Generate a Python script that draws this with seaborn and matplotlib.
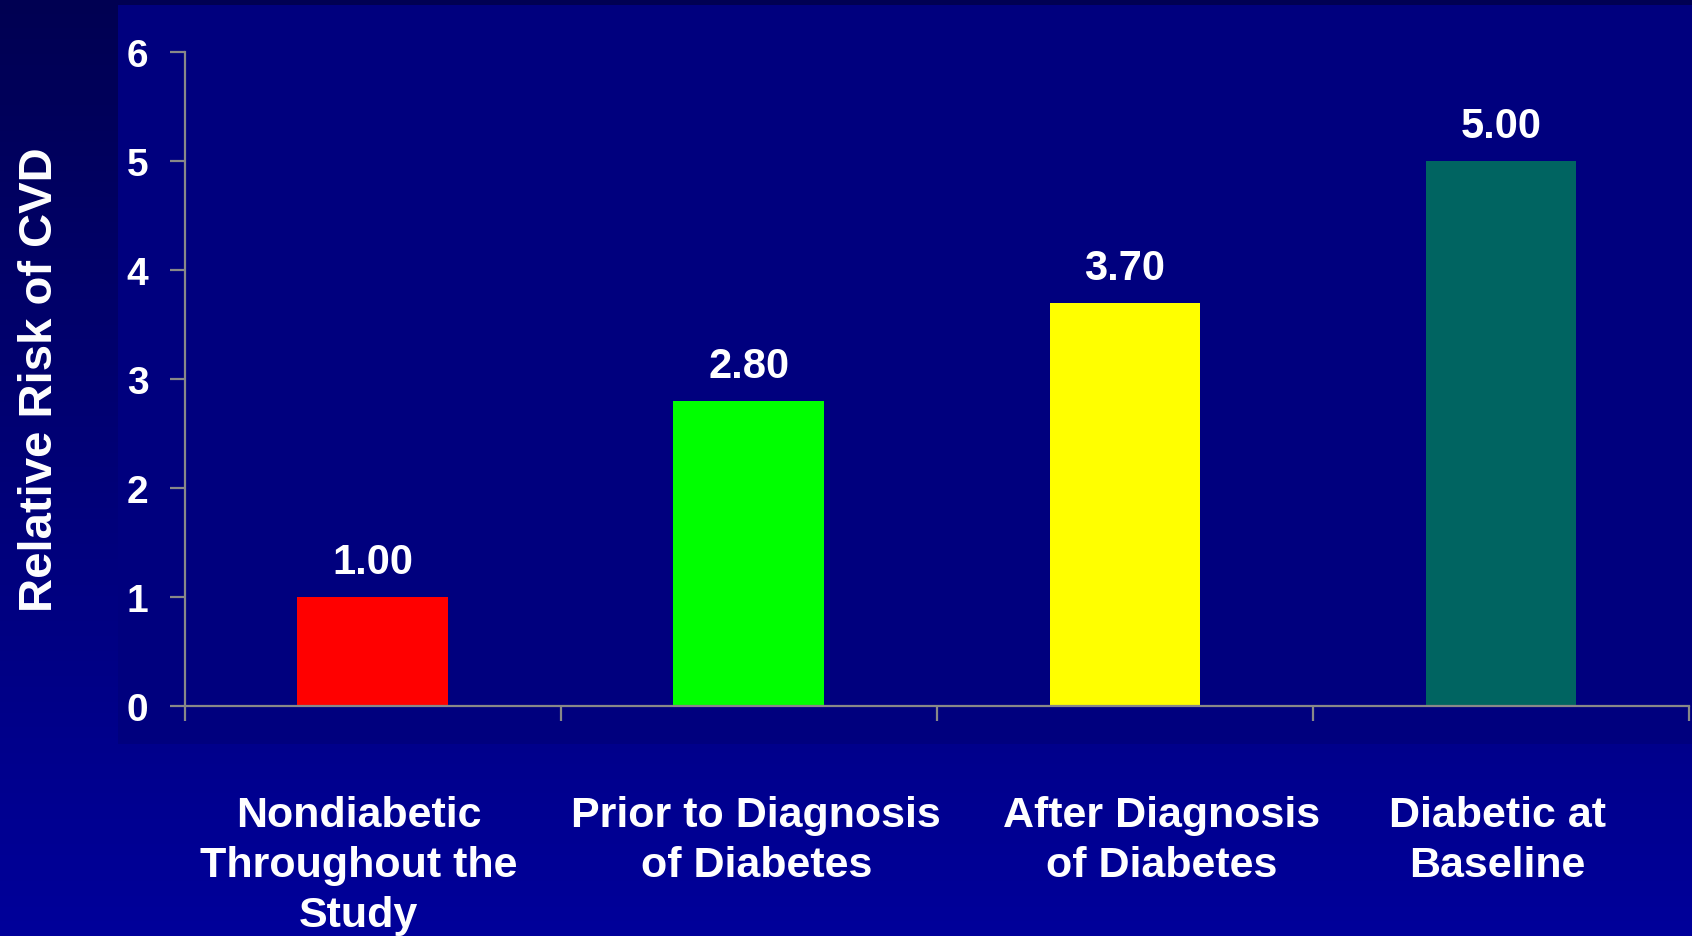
import numpy as np
import pandas as pd
import matplotlib
matplotlib.use("Agg")
import matplotlib.pyplot as plt
from matplotlib.patches import Rectangle
import seaborn as sns

categories = ["Nondiabetic\nThroughout the\nStudy", "Prior to Diagnosis\nof Diabetes",
              "After Diagnosis\nof Diabetes", "Diabetic at\nBaseline"]
values = [1.00, 2.80, 3.70, 5.00]
value_labels = ["1.00", "2.80", "3.70", "5.00"]
bar_colors = ["#FF0000", "#00FF00", "#FFFF00", "#006461"]
y_ticks = [0, 1, 2, 3, 4, 5, 6]

sns.set_style("white")
plt.rcParams['font.family'] = ['Liberation Sans', 'DejaVu Sans']
plt.rcParams['font.weight'] = 'bold'

W, H = 1692, 937
fig = plt.figure(figsize=(W / 100, H / 100), dpi=100)

# background gradient
bg = fig.add_axes([0, 0, 1, 1], zorder=-10)
grad = np.linspace(0, 1, 256).reshape(-1, 1)
top = np.array([0, 0, 0x52]) / 255
bot = np.array([0, 0, 0x9A]) / 255
img = top[None, None, :] * (1 - grad[:, :, None]) + bot[None, None, :] * grad[:, :, None]
bg.imshow(img, aspect='auto', extent=[0, 1, 0, 1], origin='upper')
bg.add_patch(Rectangle((118 / W, 1 - 745 / H), 1 - 118 / W, (745 - 6) / H,
                       facecolor="#00007E", edgecolor='none'))
bg.set_xlim(0, 1)
bg.set_ylim(0, 1)
bg.axis('off')

left = 184.5 / W
right = 1689 / W
top_y = 1 - 53 / H
bot_y = 1 - 707 / H
ax = fig.add_axes([left, bot_y, right - left, top_y - bot_y])
ax.set_facecolor('none')

df = pd.DataFrame({"cat": categories, "val": values})
sns.barplot(data=df, x="cat", y="val", hue="cat", palette=bar_colors,
            width=0.4, legend=False, ax=ax, saturation=1, edgecolor='none')

ax.set_xlim(-0.5, 3.5)
ax.set_ylim(0, 6)
ax.set_yticks(y_ticks)
ax.set_yticklabels([str(t) for t in y_ticks])

# category boundary ticks; category labels drawn as text boxes below the axis
ax.set_xticks(np.arange(-0.5, 4, 1.0))
ax.set_xticklabels([])
ax.tick_params(axis='x', which='major', direction='out', length=11, width=1.6,
               color='#888888', bottom=True)
ax.tick_params(axis='y', direction='out', length=11, width=1.6, color='#888888',
               labelsize=28, labelcolor='white', pad=15, left=True)
for lab in ax.get_yticklabels():
    lab.set_fontweight('bold')

label_shift = [-0.037, 0.02, 0.098, -0.009]  # text-box offsets (layout)
for i, cat in enumerate(categories):
    ax.annotate(cat, xy=(i + label_shift[i], 0), xycoords=ax.get_xaxis_transform(),
                xytext=(0, -64), textcoords='offset points',
                ha='center', va='top', multialignment='center',
                fontsize=31, fontweight='bold', color='white', linespacing=1.32)

for s in ['top', 'right']:
    ax.spines[s].set_visible(False)
for s in ['left', 'bottom']:
    ax.spines[s].set_color('#888888')
    ax.spines[s].set_linewidth(1.6)

ax.set_xlabel("")
ax.set_ylabel("Relative Risk of CVD", fontsize=34, fontweight='bold', color='white')
ax.yaxis.set_label_coords(-(184.5 - 62) / (1689 - 184.5), 0.5)

for i, (v, lab) in enumerate(zip(values, value_labels)):
    ax.annotate(lab, xy=(i, v), xytext=(0, 17), textcoords='offset points',
                ha='center', va='baseline', fontsize=30, fontweight='bold', color='white')

fig.savefig("out.png", dpi=100, facecolor=fig.get_facecolor())
